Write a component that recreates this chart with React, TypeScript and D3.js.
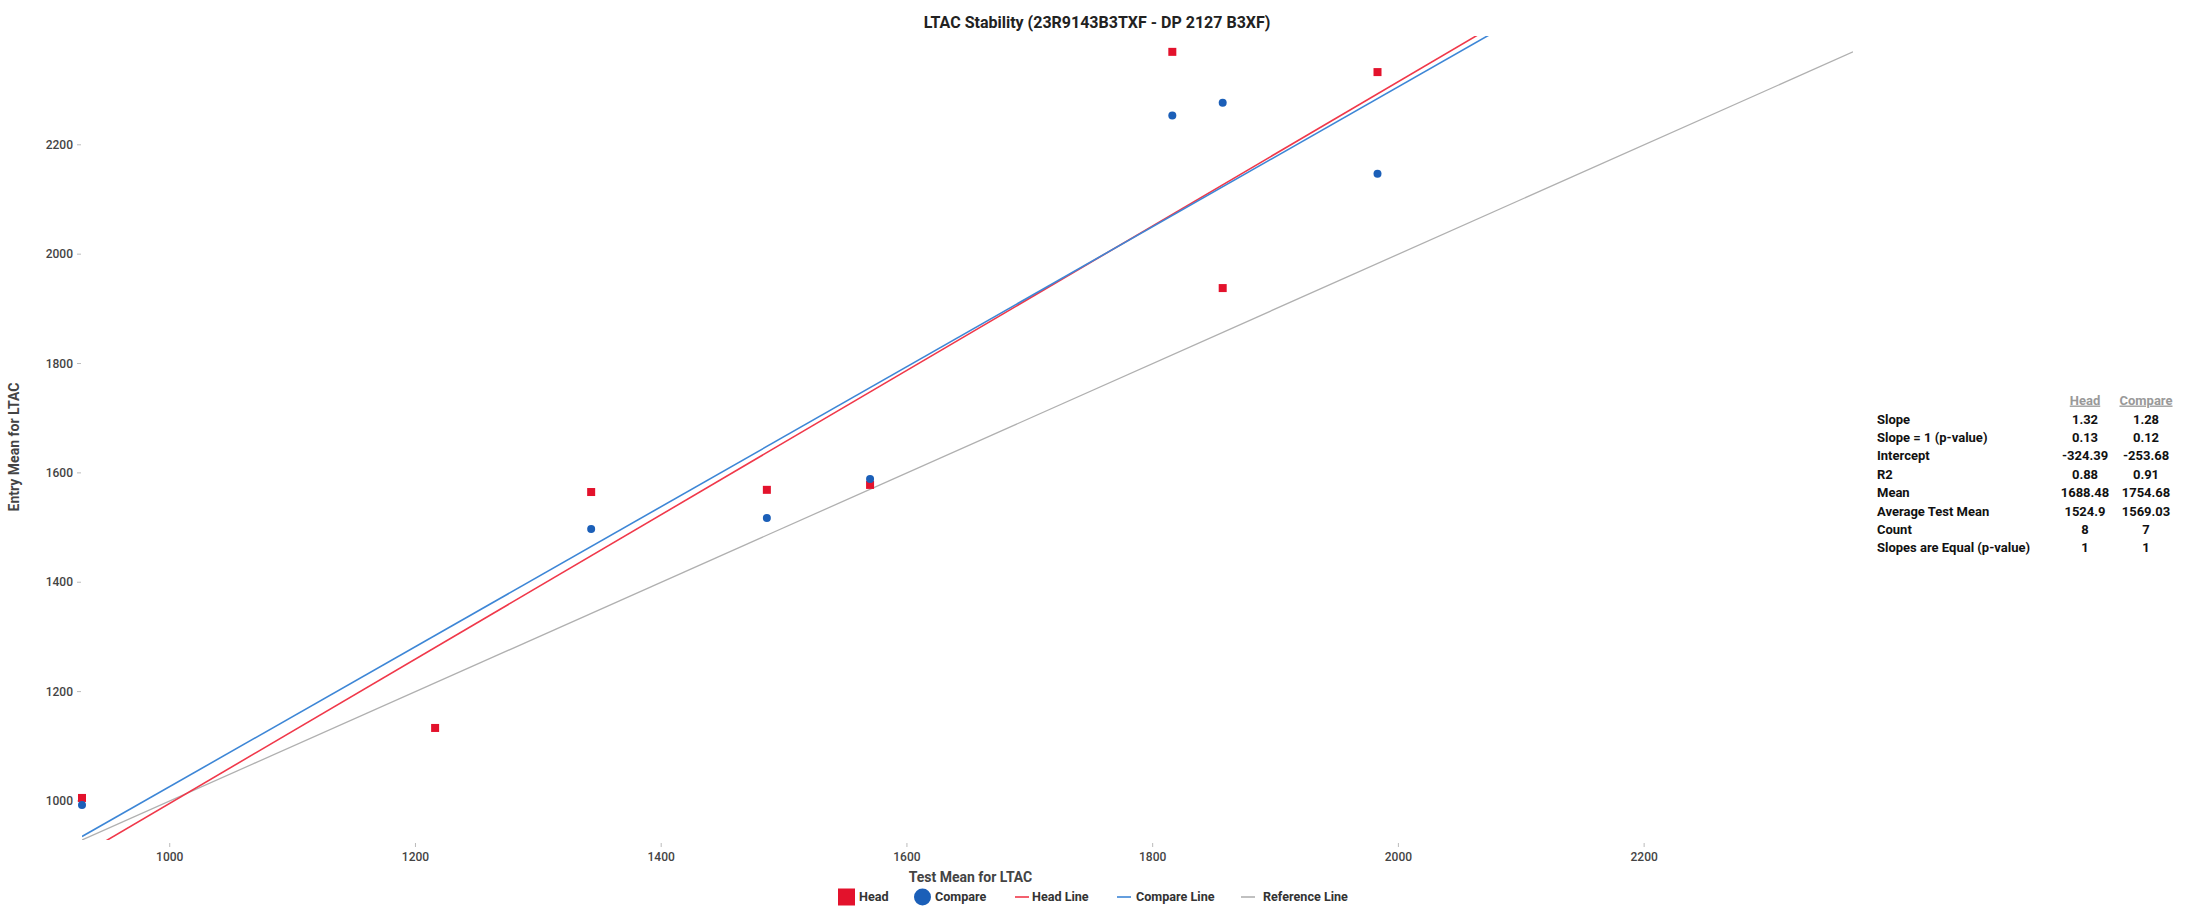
import React from "react";
import * as d3 from "d3";

const headX = [928.6, 1216, 1343, 1486, 1570, 1816, 1857, 1983];
const headY = [1005.5, 1133.5, 1565, 1569, 1578, 2370, 1938, 2333];
const compareX = [928.6, 1343, 1486, 1570, 1816, 1857, 1983];
const compareY = [992.7, 1497.5, 1517.6, 1589, 2253.5, 2277, 2147];

const headSlope = 1.32;
const headIntercept = -324.39;
const compareSlope = 1.28;
const compareIntercept = -253.68;

const xTicks = [1000, 1200, 1400, 1600, 1800, 2000, 2200];
const yTicks = [1000, 1200, 1400, 1600, 1800, 2000, 2200];

const statLabels = [
  "Slope",
  "Slope = 1 (p-value)",
  "Intercept",
  "R2",
  "Mean",
  "Average Test Mean",
  "Count",
  "Slopes are Equal (p-value)",
];
const headStats = ["1.32", "0.13", "-324.39", "0.88", "1688.48", "1524.9", "8", "1"];
const compareStats = ["1.28", "0.12", "-253.68", "0.91", "1754.68", "1569.03", "7", "1"];

const legendItems = ["Head", "Compare", "Head Line", "Compare Line", "Reference Line"];

const RED = "#e3122c";
const BLUE = "#1b5fb8";
const RED_LINE = "#f0384a";
const BLUE_LINE = "#3d86d6";
const GREY_LINE = "#b0b0b0";
const FONT = "Roboto, 'Noto Sans', sans-serif";

export default function App() {
  const W = 2192;
  const H = 909;
  const allX = [...headX, ...compareX];
  const allY = [...headY, ...compareY];
  const minV = Math.min(d3.min(allX)!, d3.min(allY)!);
  const maxV = Math.max(d3.max(allX)!, d3.max(allY)!);

  const x = d3.scaleLinear().domain([minV, maxV]).range([82, 1853]);
  const y = d3.scaleLinear().domain([minV, 2399]).range([840, 36]);

  const line = d3
    .line<[number, number]>()
    .x((d) => x(d[0]))
    .y((d) => y(d[1]));

  const xd = x.domain();
  const headLine: [number, number][] = xd.map((v) => [v, headSlope * v + headIntercept]);
  const compareLine: [number, number][] = xd.map((v) => [v, compareSlope * v + compareIntercept]);
  const refLine: [number, number][] = [
    [minV, minV],
    [maxV, maxV],
  ];

  const [x0, x1] = x.range();
  const [yb, yt] = y.range();

  const legendY = 897;
  const legendPos = [838, 914, 1015, 1117, 1241];
  const legendTextX = [859, 935, 1032, 1136, 1263];

  const tableLabelX = 1877;
  const headColX = 2085;
  const compColX = 2146;
  const rowY0 = 419;
  const rowStep = 18.4;

  return (
    <svg
      width={W}
      height={H}
      style={{ position: "absolute", left: 0, top: 0, background: "#fff" }}
      fontFamily={FONT}
    >
      <defs>
        <clipPath id="plotClip">
          <rect x={x0} y={yt} width={x1 - x0} height={yb - yt} />
        </clipPath>
      </defs>

      <text x={1097} y={28} textAnchor="middle" fontSize={16} fontWeight={700} fill="#222">
        LTAC Stability (23R9143B3TXF - DP 2127 B3XF)
      </text>

      {yTicks.map((t) => (
        <g key={"y" + t}>
          <line x1={77} x2={81} y1={y(t)} y2={y(t)} stroke="#bbb" strokeWidth={1} />
          <text x={73} y={y(t)} dy="0.35em" textAnchor="end" fontSize={12} fontWeight={500} fill="#444">
            {t}
          </text>
        </g>
      ))}
      {xTicks.map((t) => (
        <g key={"x" + t}>
          <line x1={x(t)} x2={x(t)} y1={843} y2={847} stroke="#bbb" strokeWidth={1} />
          <text x={x(t)} y={861} textAnchor="middle" fontSize={12} fontWeight={500} fill="#444">
            {t}
          </text>
        </g>
      ))}

      <text
        transform={`translate(19, ${(yb + yt) / 2 + 9}) rotate(-90)`}
        textAnchor="middle"
        fontSize={14}
        fontWeight={700}
        fill="#444"
      >
        Entry Mean for LTAC
      </text>
      <text x={(x0 + x1) / 2 + 3} y={882} textAnchor="middle" fontSize={14} fontWeight={700} fill="#444">
        Test Mean for LTAC
      </text>

      <g clipPath="url(#plotClip)">
        <path d={line(refLine)!} stroke={GREY_LINE} strokeWidth={1.3} fill="none" />
        <path d={line(headLine)!} stroke={RED_LINE} strokeWidth={1.6} fill="none" />
        <path d={line(compareLine)!} stroke={BLUE_LINE} strokeWidth={1.6} fill="none" />
      </g>

      {headX.map((v, i) => (
        <rect
          key={"h" + i}
          x={x(v) - 4}
          y={y(headY[i]) - 4}
          width={8}
          height={8}
          fill={RED}
        />
      ))}
      {compareX.map((v, i) => (
        <circle key={"c" + i} cx={x(v)} cy={y(compareY[i])} r={4} fill={BLUE} />
      ))}

      <g fontSize={12.6} fontWeight={700} fill="#333">
        <rect x={legendPos[0]} y={legendY - 8.5} width={17} height={17} fill={RED} />
        <circle cx={legendPos[1] + 8.5} cy={legendY} r={8.5} fill={BLUE} />
        <line x1={legendPos[2]} x2={legendPos[2] + 14} y1={legendY} y2={legendY} stroke={RED_LINE} strokeWidth={1.6} />
        <line x1={legendPos[3]} x2={legendPos[3] + 14} y1={legendY} y2={legendY} stroke={BLUE_LINE} strokeWidth={1.6} />
        <line x1={legendPos[4]} x2={legendPos[4] + 14} y1={legendY} y2={legendY} stroke={GREY_LINE} strokeWidth={1.6} />
        {legendItems.map((t, i) => (
          <text key={t} x={legendTextX[i]} y={legendY} dy="0.35em">
            {t}
          </text>
        ))}
      </g>

      <g fontSize={13} fontWeight={700} fill="#111">
        <text x={headColX} y={400} dy="0.35em" textAnchor="middle" fill="#999" textDecoration="underline">
          Head
        </text>
        <text x={compColX} y={400} dy="0.35em" textAnchor="middle" fill="#999" textDecoration="underline">
          Compare
        </text>
        {statLabels.map((lab, i) => (
          <g key={lab}>
            <text x={tableLabelX} y={rowY0 + i * rowStep} dy="0.35em">
              {lab}
            </text>
            <text x={headColX} y={rowY0 + i * rowStep} dy="0.35em" textAnchor="middle">
              {headStats[i]}
            </text>
            <text x={compColX} y={rowY0 + i * rowStep} dy="0.35em" textAnchor="middle">
              {compareStats[i]}
            </text>
          </g>
        ))}
      </g>
    </svg>
  );
}
